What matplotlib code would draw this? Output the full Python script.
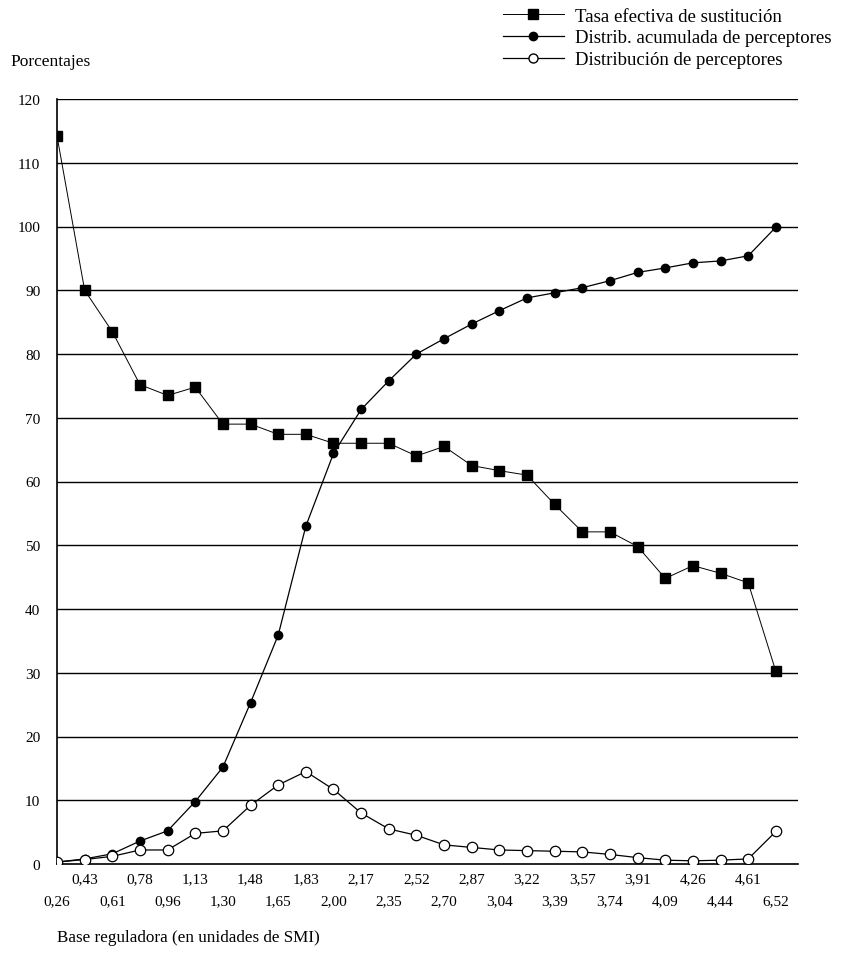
import matplotlib
matplotlib.use("Agg")
import matplotlib.pyplot as plt
from matplotlib.lines import Line2D
import numpy as np

plt.rcParams["font.family"] = ["Liberation Serif", "DejaVu Serif"]

# -- data ------------------------------------------------------------------
base_labels = ["0,26", "0,43", "0,61", "0,78", "0,96", "1,13", "1,30", "1,48",
               "1,65", "1,83", "2,00", "2,17", "2,35", "2,52", "2,70", "2,87",
               "3,04", "3,22", "3,39", "3,57", "3,74", "3,91", "4,09", "4,26",
               "4,44", "4,61", "6,52"]
tasa = [114.2, 90.0, 83.5, 75.2, 73.5, 74.8, 69.0, 69.0, 67.4, 67.4, 66.0,
        66.0, 66.0, 64.0, 65.5, 62.5, 61.7, 61.0, 56.4, 52.1, 52.1, 49.8,
        44.8, 46.8, 45.6, 44.1, 30.2]
acumulada = [0.3, 0.8, 1.6, 3.6, 5.2, 9.8, 15.2, 25.3, 35.9, 53.0, 64.4,
             71.3, 75.8, 80.0, 82.4, 84.7, 86.8, 88.8, 89.6, 90.4, 91.5,
             92.8, 93.5, 94.3, 94.6, 95.4, 99.9]
distrib = [0.3, 0.7, 1.2, 2.2, 2.2, 4.8, 5.2, 9.2, 12.4, 14.5, 11.7, 8.0,
           5.5, 4.5, 3.0, 2.6, 2.2, 2.1, 2.0, 1.9, 1.5, 1.0, 0.6, 0.5, 0.6,
           0.8, 5.1]
y_ticks = list(range(0, 121, 10))

# -- figure ----------------------------------------------------------------
W, H = 857, 954
fig = plt.figure(figsize=(W / 100, H / 100), dpi=100)
fig.patch.set_facecolor("white")
ax = fig.add_axes([57 / W, 1 - 865 / H, (798 - 57) / W, (865 - 100) / H])

x = np.arange(len(base_labels))

for yv in y_ticks[1:]:
    ax.axhline(yv, color="black", lw=1.0, zorder=1)

ax.plot(x, tasa, color="black", lw=0.7, marker="s", ms=7.2,
        mfc="black", mec="black", zorder=3)
ax.plot(x, acumulada, color="black", lw=0.9, marker="o", ms=6.0,
        mfc="black", mec="black", zorder=3)
ax.plot(x, distrib, color="black", lw=0.9, marker="o", ms=7.5,
        mfc="white", mec="black", mew=0.9, zorder=4)

ax.set_xlim(0, 26.8)
ax.set_ylim(0, 120)
for s in ("top", "right"):
    ax.spines[s].set_visible(False)
ax.spines["left"].set_linewidth(1.2)
ax.spines["bottom"].set_linewidth(1.2)

ax.set_yticks(y_ticks)
ax.set_yticklabels([str(v) for v in y_ticks], fontsize=11)
ax.tick_params(axis="y", length=0, pad=12)

# alternating two-row category labels
ax.set_xticks(x[1::2])
ax.set_xticklabels(base_labels[1::2], fontsize=11)
ax.set_xticks(x[0::2], minor=True)
ax.set_xticklabels(base_labels[0::2], minor=True, fontsize=11)
ax.tick_params(axis="x", which="major", length=0, pad=6)
ax.tick_params(axis="x", which="minor", length=0, pad=22)

fig.text(10 / W, 1 - 62 / H, "Porcentajes", fontsize=12.5,
         ha="left", va="center")
fig.text(57 / W, 1 - 938 / H, "Base reguladora (en unidades de SMI)",
         fontsize=12.3, ha="left", va="center")

handles = [
    Line2D([0], [0], color="black", lw=0.7, marker="s", ms=7,
           mfc="black", mec="black"),
    Line2D([0], [0], color="black", lw=0.9, marker="o", ms=6,
           mfc="black", mec="black"),
    Line2D([0], [0], color="black", lw=0.9, marker="o", ms=6.5,
           mfc="white", mec="black"),
]
labels = ["Tasa efectiva de sustitución",
          "Distrib. acumulada de perceptores",
          "Distribución de perceptores"]
fig.legend(handles, labels, loc="upper left",
           bbox_to_anchor=(495 / W, 1 - 1 / H), frameon=False,
           fontsize=13.5, handlelength=3.3, handletextpad=0.55,
           labelspacing=0.25, borderaxespad=0)

fig.savefig("out.png", dpi=100, facecolor="white")
